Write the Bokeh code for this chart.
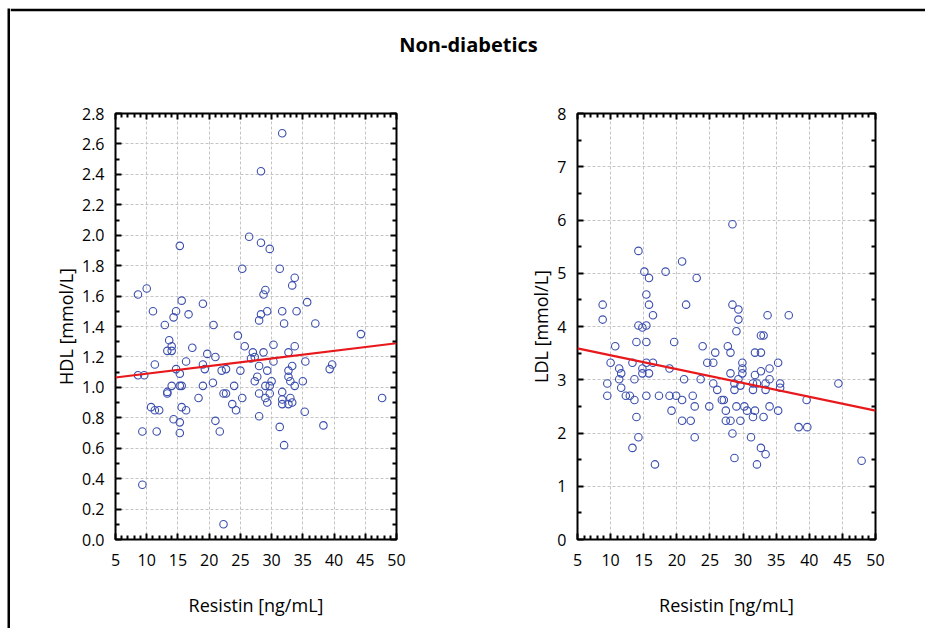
from bokeh.plotting import figure
from bokeh.models import (FixedTicker, LinearAxis, PrintfTickFormatter,
                          Label, ColumnDataSource, Range1d, Spacer)
from bokeh.layouts import column, row
from bokeh.embed import file_html
from bokeh.resources import INLINE

# ---------------- data ----------------
title_text = "Non-diabetics"
x_label = "Resistin [ng/mL]"
hdl_label = "HDL [mmol/L]"
ldl_label = "LDL [mmol/L]"

x_ticks = [5, 10, 15, 20, 25, 30, 35, 40, 45, 50]
x_minor = [6, 7, 8, 9, 11, 12, 13, 14, 16, 17, 18, 19, 21, 22, 23, 24, 26, 27, 28, 29,
           31, 32, 33, 34, 36, 37, 38, 39, 41, 42, 43, 44, 46, 47, 48, 49]
hdl_ticks = [0.0, 0.2, 0.4, 0.6, 0.8, 1.0, 1.2, 1.4, 1.6, 1.8, 2.0, 2.2, 2.4, 2.6, 2.8]
hdl_minor = [0.1, 0.3, 0.5, 0.7, 0.9, 1.1, 1.3, 1.5, 1.7, 1.9, 2.1, 2.3, 2.5, 2.7]
ldl_ticks = [0, 1, 2, 3, 4, 5, 6, 7, 8]
ldl_minor = [0.5, 1.5, 2.5, 3.5, 4.5, 5.5, 6.5, 7.5]

hdl_resistin = [31.7, 28.3, 26.4, 15.3, 28.3, 29.7, 25.3, 31.3, 33.7, 33.3, 29.0, 28.7, 8.6, 10.0,
                15.6, 19.0, 35.7, 11.0, 14.7, 14.3, 16.7, 28.3, 29.3, 31.7, 34.0, 28.0,
                12.9, 20.7, 32.0, 37.0, 44.3, 24.6, 13.6, 14.0, 25.7, 30.3, 33.7, 17.3, 13.3, 14.0,
                27.0, 28.7, 32.7, 19.7, 21.0, 27.3, 26.7, 11.3, 16.3, 30.3, 35.4, 19.0, 28.0, 33.3,
                39.7, 39.3, 14.7, 19.3, 22.7, 22.0, 25.0, 29.3, 32.7, 15.3, 8.6, 9.6, 32.7, 27.7,
                33.0, 30.0, 27.3, 35.0, 20.6, 14.0, 15.3, 15.6, 19.0, 24.0, 29.0, 29.7, 33.7, 13.3,
                13.3, 22.3, 22.7, 28.0, 29.7, 31.7, 18.3, 25.3, 29.0, 33.0, 47.7, 31.7, 29.3, 33.3,
                31.7, 32.7, 23.7, 10.7, 15.6, 11.3, 12.0, 16.3, 24.3, 35.3, 14.3, 28.0, 21.0, 15.3,
                38.3, 9.3, 11.6, 21.7, 15.3, 31.3, 32.0, 9.3, 22.3]
hdl_values = [2.67, 2.42, 1.99, 1.93, 1.95, 1.91, 1.78, 1.78, 1.72, 1.67, 1.64, 1.61, 1.61, 1.65,
              1.57, 1.55, 1.56, 1.50, 1.50, 1.46, 1.48, 1.48, 1.50, 1.50, 1.50, 1.44,
              1.41, 1.41, 1.42, 1.42, 1.35, 1.34, 1.31, 1.27, 1.27, 1.28, 1.27, 1.26, 1.24, 1.24,
              1.23, 1.23, 1.23, 1.22, 1.20, 1.20, 1.19, 1.15, 1.17, 1.17, 1.17, 1.15, 1.14, 1.14,
              1.15, 1.12, 1.12, 1.12, 1.12, 1.11, 1.11, 1.11, 1.11, 1.09, 1.08, 1.08, 1.07, 1.07,
              1.04, 1.04, 1.04, 1.04, 1.03, 1.01, 1.01, 1.01, 1.01, 1.01, 1.01, 1.01, 1.01, 0.97,
              0.96, 0.96, 0.96, 0.96, 0.96, 0.97, 0.93, 0.93, 0.93, 0.93, 0.93, 0.92, 0.90, 0.90,
              0.89, 0.89, 0.89, 0.87, 0.87, 0.85, 0.85, 0.85, 0.85, 0.84, 0.79, 0.81, 0.78, 0.77,
              0.75, 0.71, 0.71, 0.71, 0.70, 0.74, 0.62, 0.36, 0.10]

ldl_resistin = [28.4, 14.2, 20.8, 15.1, 18.3, 15.8, 23.0, 15.4, 8.8, 15.8, 21.4, 28.4, 29.3, 16.4,
                33.7, 36.9, 8.8, 29.3, 14.2, 15.4, 14.8, 29.0, 13.9, 15.4, 19.6, 10.7, 23.9, 27.7,
                28.1, 25.8, 31.8, 32.7, 32.7, 33.1, 10.0, 13.3, 15.4, 16.4, 24.6, 25.5, 29.9, 35.3,
                11.3, 14.8, 18.9, 29.9, 34.0, 11.6, 14.8, 15.8, 28.1, 29.9, 32.7, 31.8, 11.3, 13.6,
                21.1, 23.6, 29.3, 34.0, 9.5, 25.5, 28.7, 31.5, 32.1, 33.4, 35.6, 44.4, 29.6, 11.6,
                35.6, 26.1, 28.7, 31.5, 33.4, 9.5, 12.3, 12.9, 15.4, 17.3, 18.9, 19.9, 22.4, 13.6,
                20.8, 26.8, 27.1, 22.7, 24.9, 29.0, 30.2, 34.0, 30.6, 31.8, 35.3, 19.2, 27.4, 13.9,
                31.5, 33.1, 20.8, 22.1, 27.4, 28.1, 29.6, 38.4, 39.7, 39.6, 28.4, 14.2, 22.7, 31.2,
                13.3, 32.7, 33.4, 28.7, 47.9, 16.7, 32.1]
ldl_values = [5.92, 5.42, 5.22, 5.03, 5.03, 4.91, 4.91, 4.60, 4.41, 4.41, 4.41, 4.41, 4.32, 4.21,
              4.21, 4.21, 4.13, 4.13, 4.02, 4.02, 3.98, 3.91, 3.71, 3.71, 3.71, 3.63, 3.63, 3.63,
              3.51, 3.51, 3.51, 3.51, 3.83, 3.83, 3.32, 3.32, 3.32, 3.32, 3.32, 3.32, 3.32, 3.32,
              3.21, 3.21, 3.21, 3.21, 3.21, 3.12, 3.12, 3.12, 3.12, 3.12, 3.16, 3.09, 3.01, 3.01,
              3.01, 3.01, 3.01, 3.01, 2.93, 2.93, 2.93, 2.93, 2.93, 2.93, 2.93, 2.93, 2.89, 2.85,
              2.85, 2.81, 2.81, 2.81, 2.81, 2.70, 2.70, 2.70, 2.70, 2.70, 2.70, 2.70, 2.70, 2.62,
              2.62, 2.62, 2.62, 2.50, 2.50, 2.50, 2.50, 2.50, 2.42, 2.42, 2.42, 2.42, 2.42, 2.30,
              2.30, 2.30, 2.23, 2.23, 2.23, 2.23, 2.23, 2.11, 2.11, 2.62, 1.99, 1.92, 1.92, 1.92,
              1.72, 1.72, 1.60, 1.53, 1.48, 1.41, 1.41]

fit_resistin = [5, 50]
fit_hdl = [1.065, 1.29]
fit_ldl = [3.59, 2.42]

# ---------------- styling ----------------
FONT = "Open Sans"
MARKER = "#3C4FAE"
RED = "#E8191C"


def style_axis(ax, show_labels=True):
    ax.axis_line_color = None
    ax.major_tick_in = 6
    ax.major_tick_out = 0
    ax.minor_tick_in = 4
    ax.minor_tick_out = 0
    ax.major_tick_line_color = "black"
    ax.minor_tick_line_color = "black"
    ax.major_tick_line_width = 2
    ax.minor_tick_line_width = 2
    ax.major_label_text_font = FONT
    ax.major_label_text_font_size = "16px"
    ax.major_label_text_color = "black" if show_labels else None
    ax.axis_label_text_font = FONT
    ax.axis_label_text_font_size = "18px"
    ax.axis_label_text_font_style = "normal"
    ax.axis_label_text_color = "black"


def panel(xs, ys, fit_y, ymax, yticks, yminor, ylabel, yfmt, left, fw, right, lab_off):
    p = figure(frame_width=fw, frame_height=426,
               min_border_left=left, min_border_right=right,
               min_border_top=36, min_border_bottom=82,
               x_range=Range1d(5, 50), y_range=Range1d(0, ymax),
               output_backend="svg", toolbar_location=None, tools="",
               outline_line_color="black", outline_line_width=2,
               background_fill_color="white", border_fill_color="white")
    xt = FixedTicker(ticks=x_ticks, minor_ticks=x_minor)
    yt = FixedTicker(ticks=yticks, minor_ticks=yminor)
    p.xaxis.ticker = xt
    p.yaxis.ticker = yt
    p.xgrid.ticker = xt
    p.ygrid.ticker = yt
    p.yaxis.formatter = PrintfTickFormatter(format=yfmt)
    for ax in p.xaxis + p.yaxis:
        style_axis(ax)
    p.xaxis.axis_label = x_label
    p.yaxis.axis_label = ylabel
    p.xaxis.major_label_standoff = 14
    p.xaxis.axis_label_standoff = 24
    p.yaxis.major_label_standoff = 11
    p.yaxis.axis_label_standoff = lab_off

    top = LinearAxis(ticker=xt)
    style_axis(top, show_labels=False)
    top.major_label_standoff = 0
    p.add_layout(top, "above")
    rgt = LinearAxis(ticker=yt)
    style_axis(rgt, show_labels=False)
    rgt.major_label_standoff = 0
    p.add_layout(rgt, "right")

    for g in (p.xgrid, p.ygrid):
        g.grid_line_color = "#C4C4C4"
        g.grid_line_dash = "3 2"
        g.grid_line_width = 1

    src = ColumnDataSource(dict(x=xs, y=ys))
    p.scatter("x", "y", source=src, marker="circle", size=7.5,
              fill_color=None, line_color=MARKER, line_width=1.1)
    p.line(fit_resistin, fit_y, line_color=RED, line_width=2.2)
    return p


p1 = panel(hdl_resistin, hdl_values, fit_hdl, 2.8, hdl_ticks, hdl_minor, hdl_label,
           "%.1f", 105, 281, 74, 1)
p2 = panel(ldl_resistin, ldl_values, fit_ldl, 8, ldl_ticks, ldl_minor, ldl_label,
           "%d", 107, 298, 42, 1)

# left border strip of the outer frame (full height)
lbar = figure(width=3, height=620, min_border=0, output_backend="svg",
              toolbar_location=None, tools="", x_axis_type=None, y_axis_type=None,
              background_fill_color="black", border_fill_color="black",
              outline_line_color=None)
lbar.grid.visible = False

# title strip; its black 3px top border is the top edge of the outer frame
TW, TH = 915, 66
tfig = figure(width=TW, height=TH + 3, x_range=Range1d(0, TW), y_range=Range1d(0, TH),
              min_border=0, min_border_top=3, output_backend="svg",
              toolbar_location=None, tools="", x_axis_type=None, y_axis_type=None,
              outline_line_color=None,
              background_fill_color="white", border_fill_color="black")
tfig.grid.visible = False
tfig.add_layout(Label(x=458, y=33, text=title_text, text_align="center",
                      text_baseline="middle", text_font=FONT, text_font_style="bold",
                      text_font_size="20px", text_color="black"))

layout = column(Spacer(width=925, height=8),
                row(Spacer(width=7, height=620), lbar,
                    column(tfig, row(p1, p2))))

open("out.html", "w").write(file_html(layout, INLINE))
